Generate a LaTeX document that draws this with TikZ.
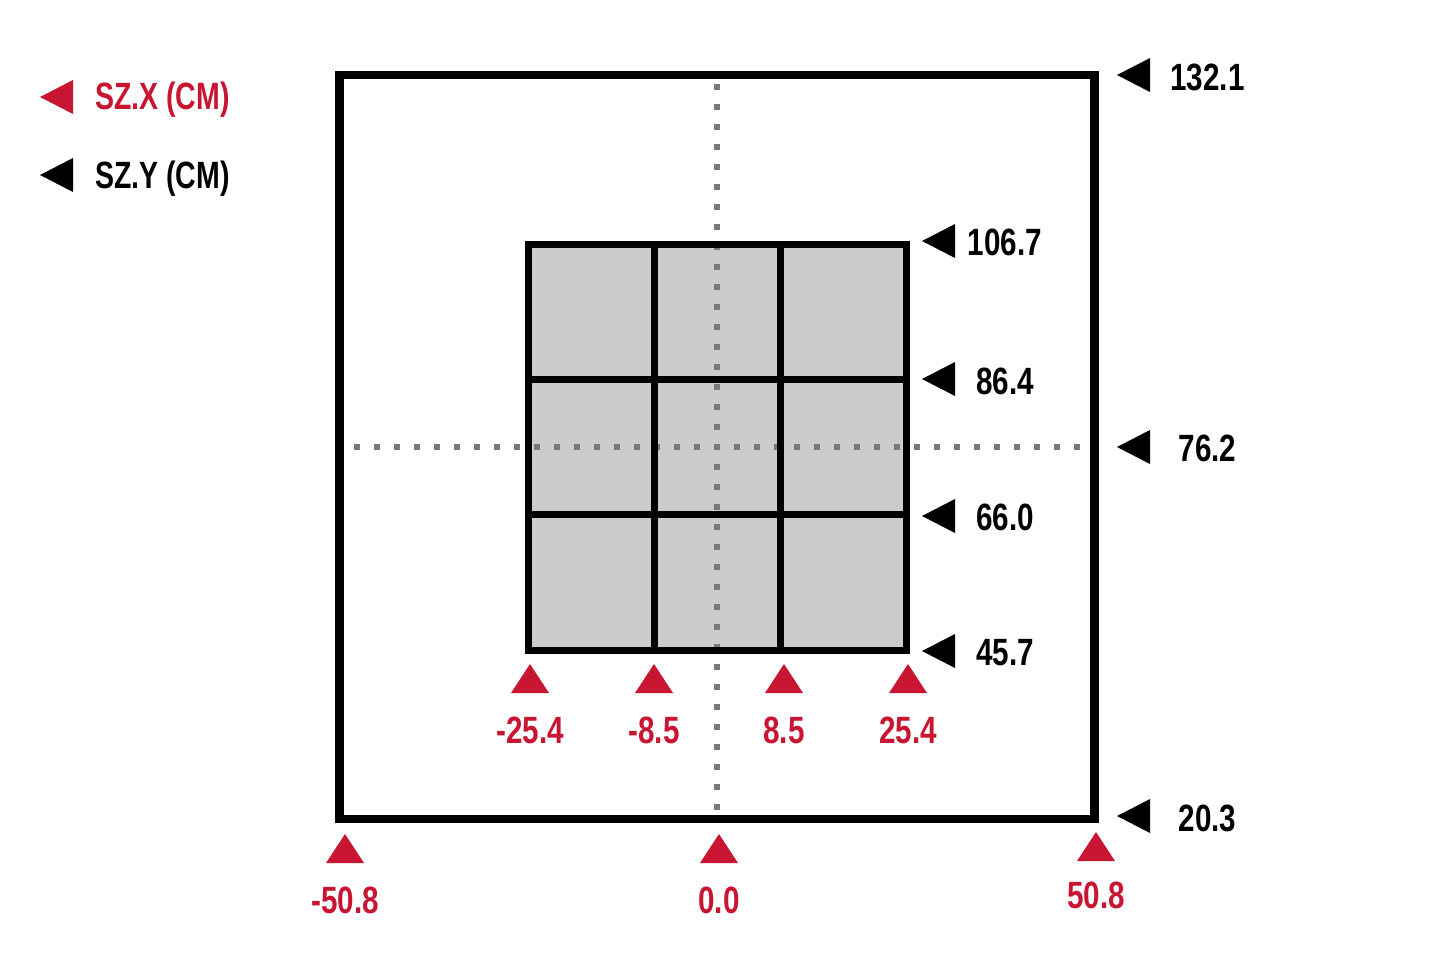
\documentclass[tikz,border=0pt]{standalone}
\usepackage{fontspec}
\setmainfont{Liberation Sans}[FakeStretch=0.78]
\newfontfamily\legendfont{Liberation Sans}[FakeStretch=0.75]
\definecolor{szred}{RGB}{200,22,50}
\definecolor{cellgray}{RGB}{204,204,204}
\definecolor{dotgray}{RGB}{120,120,120}
\begin{document}
\begin{tikzpicture}[x=1pt,y=-1pt,
  lbl/.style={inner sep=0pt, font=\fontsize{38}{40}\selectfont\bfseries, anchor=base},
  redlbl/.style={lbl, text=szred},
  legendlbl/.style={inner sep=0pt, font=\fontsize{38}{40}\legendfont\bfseries, anchor=base west},
  frame/.style={line width=8.5pt},
  gridline/.style={line width=7pt},
  dotline/.style={dotgray, line width=6.5pt, dash pattern=on 6.5pt off 13.5pt},
  ltri/.pic={\fill (0,0) -- (33,-17) -- (33,17) -- cycle;},
  utri/.pic={\fill (0,0) -- (-19,29) -- (19,29) -- cycle;}]
\useasboundingbox[fill=white] (0,0) rectangle (1448,974);

% legend
\pic[szred] at (40,97) {ltri};
\node[legendlbl, text=szred] (legx) at (95,110) {SZ.X (CM)};
\pic[black] at (40,175) {ltri};
\node[legendlbl] (legy) at (95,188) {SZ.Y (CM)};

% outer frame
\draw[frame] (339.5,75) rectangle (1094.5,819);

% inner grid fill
\fill[cellgray] (528,244) rectangle (906,650);

% dotted axes
\draw[dotline] (717,83.75) -- (717,810.25);
\draw[dotline] (353.75,447) -- (1080.25,447);

% inner grid lines
\draw[gridline] (528,244) rectangle (906,650);
\draw[gridline] (654,244) -- (654,650);
\draw[gridline] (780,244) -- (780,650);
\draw[gridline] (528,379.5) -- (906,379.5);
\draw[gridline] (528,514) -- (906,514);

% right side y markers
\pic[black] at (1117,75) {ltri};
\node[lbl] (y1321) at (1207.5,90) {132.1};
\pic[black] at (922,241) {ltri};
\node[lbl] (y1067) at (1005,255) {106.7};
\pic[black] at (922,379) {ltri};
\node[lbl] (y864) at (1005,394) {86.4};
\pic[black] at (1117,447) {ltri};
\node[lbl] (y762) at (1207.5,461) {76.2};
\pic[black] at (922,516) {ltri};
\node[lbl] (y660) at (1005,530) {66.0};
\pic[black] at (922,651) {ltri};
\node[lbl] (y457) at (1005,665) {45.7};
\pic[black] at (1117,816) {ltri};
\node[lbl] (y203) at (1207.5,831) {20.3};

% bottom x markers (inner)
\pic[szred] at (530,664) {utri};
\node[redlbl] (xm254) at (530,743) {-25.4};
\pic[szred] at (654,664) {utri};
\node[redlbl] (xm85) at (654,743) {-8.5};
\pic[szred] at (784,664) {utri};
\node[redlbl] (x85) at (784,743) {8.5};
\pic[szred] at (908,664) {utri};
\node[redlbl] (x254) at (908,743) {25.4};

% bottom x markers (outer)
\pic[szred] at (345,834) {utri};
\node[redlbl] (xm508) at (345,913) {-50.8};
\pic[szred] at (719,834) {utri};
\node[redlbl] (x00) at (719,913) {0.0};
\pic[szred] at (1096,832) {utri};
\node[redlbl] (x508) at (1096,908) {50.8};
\end{tikzpicture}
\end{document}
